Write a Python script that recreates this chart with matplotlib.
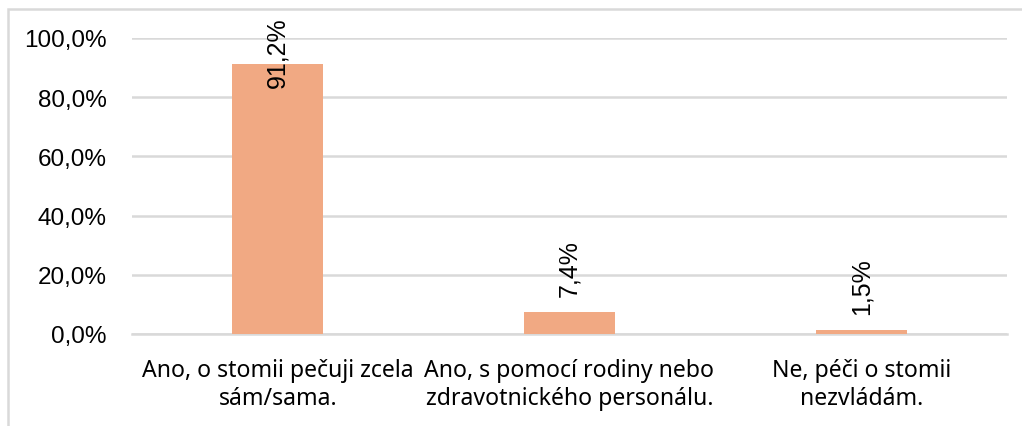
import matplotlib.pyplot as plt
from matplotlib.patches import Rectangle
from matplotlib.ticker import FuncFormatter

# data
categories = ['Ano, o stomii pečuji zcela\nsám/sama.',
              'Ano, s pomocí rodiny nebo\nzdravotnického personálu.',
              'Ne, péči o stomii\nnezvládám.']
values = [91.2, 7.4, 1.5]
yticks = [0, 20, 40, 60, 80, 100]

bar_color = '#F1A983'
grid_color = '#D9D9D9'

fig = plt.figure(figsize=(10.22, 4.27), dpi=100)
ax = fig.add_axes([132 / 1022, 92 / 427, 875 / 1022, 296 / 427])

x = range(len(categories))
ax.bar(x, values, width=0.312, color=bar_color, zorder=3)
ax.set_xlim(-0.5, len(categories) - 0.5)
ax.set_ylim(0, 100)
ax.set_yticks(yticks)
ax.yaxis.set_major_formatter(FuncFormatter(lambda v, p: f'{v:.1f}%'.replace('.', ',')))
ax.grid(axis='y', color=grid_color, linewidth=1.8, zorder=0)
ax.tick_params(axis='y', length=0, pad=18, labelsize=17.5)
ax.tick_params(axis='x', length=0, pad=17)
ax.set_xticks(list(x))
ax.set_xticklabels(categories, fontsize=16.6, family='Noto Sans', linespacing=1.25)
for lab in ax.get_yticklabels():
    lab.set_family('Liberation Sans')
for s in ax.spines.values():
    s.set_visible(False)
ax.spines['bottom'].set_visible(True)
ax.spines['bottom'].set_color(grid_color)
ax.spines['bottom'].set_linewidth(1.8)

# data labels, kept inside the chart area
for i, v in enumerate(values):
    y = min(v + 5.4, 83.4)
    ax.text(i, y, f'{v:.1f}%'.replace('.', ','), rotation=90, ha='center', va='bottom',
            fontsize=18, family='Liberation Sans', zorder=4, clip_on=False)

# chart border
fig.patches.append(Rectangle((8 / 1022, -0.5), 2, (417 / 427) + 0.5, transform=fig.transFigure,
                             fill=False, edgecolor=grid_color, linewidth=1.8))

fig.savefig('out.png', dpi=100)
